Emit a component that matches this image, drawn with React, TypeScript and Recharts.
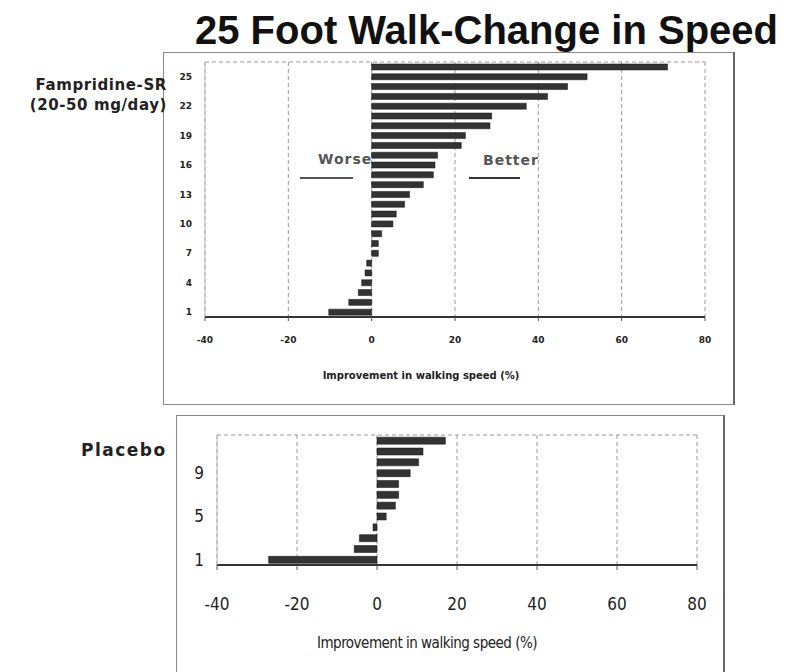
import { BarChart, Bar, XAxis, YAxis, CartesianGrid, Label } from 'recharts';

// Fampridine-SR patients, ranked 1 (worst) to 26 (best)
const famIds = [1, 2, 3, 4, 5, 6, 7, 8, 9, 10, 11, 12, 13, 14, 15, 16, 17, 18, 19, 20, 21, 22, 23, 24, 25, 26];
const famChange = [
  -10.3, -5.5, -3.2, -2.4, -1.6, -1.2, 1.6, 1.6, 2.4, 5.1, 5.9, 7.9, 9.1,
  12.4, 14.8, 15.2, 15.8, 21.5, 22.5, 28.4, 28.8, 37.1, 42.2, 47.0, 51.7, 71.0,
];

// Placebo patients, ranked 1 to 12
const placeboIds = [1, 2, 3, 4, 5, 6, 7, 8, 9, 10, 11, 12];
const placeboChange = [-27.1, -5.7, -4.4, -1.0, 2.3, 4.6, 5.4, 5.4, 8.3, 10.4, 11.5, 17.1];

const xTicks = [-40, -20, 0, 20, 40, 60, 80];
const axisTitle = 'Improvement in walking speed (%)';

const famData = famIds.map((id, i) => ({ id, value: famChange[i] }));
const placeboData = placeboIds.map((id, i) => ({ id, value: placeboChange[i] }));

const WIDE = "'DejaVu Sans', Verdana, sans-serif";
const NARROW = "'Liberation Sans Narrow', 'DejaVu Sans Condensed', 'Arial Narrow', 'Liberation Sans', sans-serif";

export default function App() {
  return (
    <div
      style={{
        position: 'fixed',
        left: 0,
        top: 0,
        width: 786,
        height: 672,
        overflow: 'hidden',
        background: '#fff',
        color: '#111',
      }}
    >
      <div
        style={{
          position: 'absolute',
          left: 195,
          top: 8,
          fontFamily: "'Liberation Sans', Arial, sans-serif",
          fontWeight: 'bold',
          fontSize: 40,
          lineHeight: '44px',
          whiteSpace: 'nowrap',
        }}
      >
        25 Foot Walk-Change in Speed
      </div>

      {/* panel frames */}
      <div
        style={{
          position: 'absolute',
          left: 163,
          top: 52,
          width: 572,
          height: 353,
          boxSizing: 'border-box',
          border: '1px solid #888',
          borderRight: '2px solid #666',
        }}
      />
      <div
        style={{
          position: 'absolute',
          left: 176,
          top: 415,
          width: 549,
          height: 300,
          boxSizing: 'border-box',
          border: '1px solid #888',
          borderRight: '2px solid #666',
        }}
      />

      <div
        style={{
          position: 'absolute',
          right: 786 - 167,
          top: 75,
          fontFamily: WIDE,
          fontWeight: 'bold',
          fontSize: 15,
          lineHeight: '20px',
          letterSpacing: 0.6,
          textAlign: 'right',
          whiteSpace: 'nowrap',
          color: '#222',
        }}
      >
        Fampridine-SR
        <br />
        (20-50 mg/day)
      </div>
      <div
        style={{
          position: 'absolute',
          left: 81,
          top: 440,
          fontFamily: WIDE,
          fontWeight: 'bold',
          fontSize: 17,
          lineHeight: '20px',
          letterSpacing: 1.5,
          color: '#222',
        }}
      >
        Placebo
      </div>

      {/* worse / better annotations, under the bars */}
      <div
        style={{
          position: 'absolute',
          left: 318,
          top: 150,
          fontFamily: WIDE,
          fontWeight: 'bold',
          fontSize: 14,
          lineHeight: '18px',
          letterSpacing: 1,
          color: '#555',
        }}
      >
        Worse
      </div>
      <div style={{ position: 'absolute', left: 300, top: 177, width: 53, height: 2, background: '#555' }} />
      <div
        style={{
          position: 'absolute',
          left: 483,
          top: 151,
          fontFamily: WIDE,
          fontWeight: 'bold',
          fontSize: 14,
          lineHeight: '18px',
          letterSpacing: 1,
          color: '#555',
        }}
      >
        Better
      </div>
      <div style={{ position: 'absolute', left: 469, top: 177, width: 51, height: 2, background: '#333' }} />

      <div style={{ position: 'absolute', left: 163, top: 52 }}>
        <BarChart
          width={572}
          height={353}
          data={famData}
          layout="vertical"
          barCategoryGap="20%"
          margin={{ top: 10, right: 30, left: 0, bottom: 0 }}
        >
          <CartesianGrid
            horizontal={true}
            horizontalPoints={[10]}
            strokeDasharray="4 3"
            stroke="#999"
          />
          <XAxis
            type="number"
            dataKey="value"
            domain={[-40, 80]}
            ticks={xTicks}
            allowDataOverflow
            height={88}
            tickSize={4}
            tickMargin={16}
            tick={{ fill: '#222', fontSize: 9, fontFamily: WIDE, fontWeight: 'bold' }}
            axisLine={{ stroke: '#333', strokeWidth: 2 }}
            tickLine={{ stroke: '#555' }}
          >
            <Label
              value={axisTitle}
              position="insideBottom"
              offset={26}
              dx={-34}
              style={{ fill: '#222', fontSize: 10, fontFamily: WIDE, fontWeight: 'bold' }}
            />
          </XAxis>
          <YAxis
            type="category"
            dataKey="id"
            reversed
            interval={2}
            width={42}
            tickMargin={7}
            tickLine={false}
            axisLine={{ stroke: '#bbb' }}
            tick={{ fill: '#222', fontSize: 9, fontFamily: WIDE, fontWeight: 'bold' }}
          />
          <Bar dataKey="value" fill="#333" stroke="#111" strokeWidth={0.5} isAnimationActive={false} />
        </BarChart>
      </div>

      <div style={{ position: 'absolute', left: 176, top: 415 }}>
        <BarChart
          width={549}
          height={257}
          data={placeboData}
          layout="vertical"
          barCategoryGap="20%"
          margin={{ top: 20, right: 28, left: 0, bottom: 0 }}
        >
          <CartesianGrid
            horizontal={true}
            horizontalPoints={[20]}
            strokeDasharray="4 3"
            stroke="#999"
          />
          <XAxis
            type="number"
            dataKey="value"
            domain={[-40, 80]}
            ticks={xTicks}
            allowDataOverflow
            height={107}
            tickSize={5}
            tickMargin={28}
            tick={{ fill: '#222', fontSize: 17, fontFamily: NARROW, fontStretch: 'condensed' }}
            axisLine={{ stroke: '#333', strokeWidth: 2 }}
            tickLine={{ stroke: '#555' }}
          >
            <Label
              value={axisTitle}
              position="insideBottom"
              offset={24}
              dx={-30}
              style={{ fill: '#222', fontSize: 15, fontFamily: NARROW, fontStretch: 'condensed', letterSpacing: -0.5 }}
            />
          </XAxis>
          <YAxis
            type="category"
            dataKey="id"
            reversed
            interval={3}
            width={41}
            tickMargin={7}
            tickLine={false}
            axisLine={{ stroke: '#bbb' }}
            tick={{ fill: '#222', fontSize: 17, fontFamily: NARROW, fontStretch: 'condensed' }}
          />
          <Bar dataKey="value" fill="#333" stroke="#111" strokeWidth={0.5} isAnimationActive={false} />
        </BarChart>
      </div>
    </div>
  );
}
